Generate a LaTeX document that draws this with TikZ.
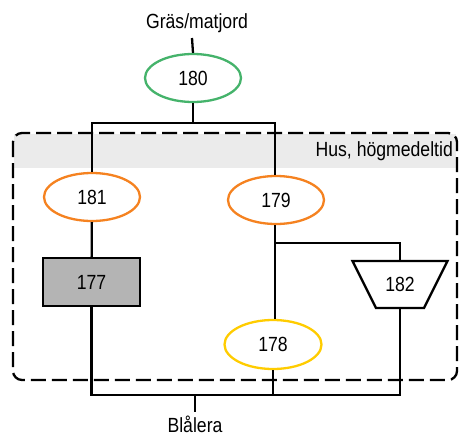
\documentclass[tikz,border=0pt]{standalone}
\usepackage{fontspec}
\setmainfont{Liberation Sans}[FakeStretch=0.86]
\usepackage{tikz}
\usetikzlibrary{shapes.geometric,positioning}
\definecolor{ink}{HTML}{000000}
\definecolor{grass}{HTML}{45B36B}
\definecolor{house}{HTML}{F58220}
\definecolor{pit}{HTML}{FFCC00}
\definecolor{fillgrey}{HTML}{B4B4B4}
\definecolor{band}{HTML}{EBEBEB}

\begin{document}
\begin{tikzpicture}[x=1pt,y=-1pt,line width=2.3pt,
  font=\fontsize{20.5}{23}\selectfont,
  oval/.style={ellipse,draw,fill=white,minimum width=96pt,minimum height=48pt,inner sep=0pt},
  boxnode/.style={rectangle,draw=ink,fill=fillgrey,minimum width=97pt,minimum height=48pt,inner sep=0pt},
  pitnode/.style={rectangle,minimum width=95pt,minimum height=47pt,inner sep=0pt,outer sep=0pt},
  lbl/.style={inner sep=1pt}]
 \useasboundingbox (0,0) rectangle (459,437);
 % phase box
 \fill[band] (14,134) rectangle (456,168);
 \draw[ink,dash pattern=on 15pt off 6pt,rounded corners=9pt] (13,133) rectangle (457,380);
 \node[lbl,anchor=east] (phase) at (455,151) {Hus, högmedeltid};
 % units
 \node[lbl] (top) at (197,23) {Gräs/matjord};
 \node[lbl] (bot) at (195,424) {Blålera};
 \node[oval,draw=grass] (n180) at (193,78) {180};
 \node[oval,draw=house] (n181) at (92,197) {181};
 \node[oval,draw=house] (n179) at (276,200) {179};
 \node[boxnode] (n177) at (91.5,282) {177};
 \node[pitnode] (n182) at (400,284.5) {};
 \draw[ink,fill=white] (n182.north west) -- (n182.north east)
   -- ([xshift=-23.5pt]n182.south east) -- ([xshift=23.5pt]n182.south west) -- cycle;
 \node at (n182) {182};
 \node[oval,draw=pit,minimum width=97pt,minimum height=49pt] (n178) at (273,344.5) {178};
 % relations
 \coordinate (splitA) at (193,123);
 \coordinate (splitB) at (275,243);
 \coordinate (splitC) at (195,395);
 \coordinate (topEnd) at (192,38);
 \coordinate (botEnd) at (195,412);
 \draw (topEnd) -- (n180.north);
 \draw (n180.south) -- (splitA);
 \draw (n181.north) |- (splitA) -| (n179.north -| splitB);
 \draw (n181) -- (n177);
 \draw (n179.south -| splitB) -- (n178.north -| splitB);
 \draw (splitB) -| (n182.north);
 \draw (n177.south) |- (n182.south |- splitC) -- (n182.south);
 \draw (n178.south) -- (n178.south |- splitC);
 \draw (splitC) -- (botEnd);
\end{tikzpicture}
\end{document}
